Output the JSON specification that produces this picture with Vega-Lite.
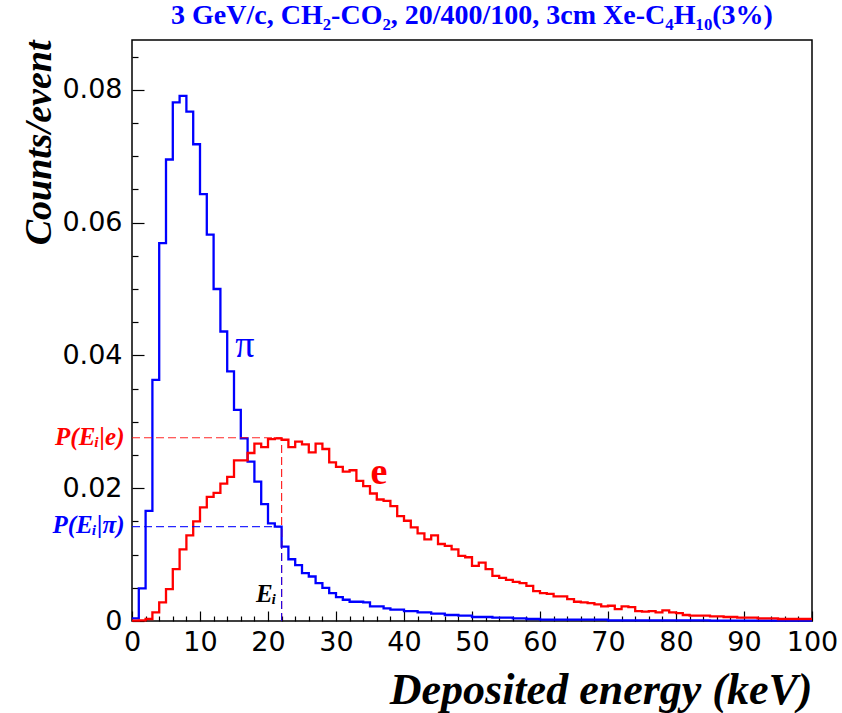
{
  "$schema": "https://vega.github.io/schema/vega-lite/v6.json",
  "width": 680,
  "height": 581,
  "autosize": {"type": "none"},
  "padding": {"left": 132, "top": 40, "right": 30, "bottom": 92},
  "background": "white",
  "config": {
    "view": {"stroke": "black", "strokeWidth": 1.5},
    "axis": {"grid": false, "domain": false, "tickColor": "black", "labelColor": "black", "titleColor": "black"}
  },
  "title": {
    "text": "3 GeV/c, CH₂-CO₂, 20/400/100, 3cm Xe-C₄H₁₀(3%)",
    "font": "Liberation Serif",
    "fontSize": 28,
    "fontWeight": "bold",
    "color": "#0000ff",
    "offset": 10,
    "anchor": "middle"
  },
  "datasets": {
    "pi": [
      {"E":0,"v":0.0004},{"E":1,"v":0.0049},{"E":2,"v":0.0166},{"E":3,"v":0.0363},{"E":4,"v":0.0569},
      {"E":5,"v":0.0695},{"E":6,"v":0.0781},{"E":7,"v":0.0791},{"E":8,"v":0.0767},{"E":9,"v":0.0718},
      {"E":10,"v":0.0643},{"E":11,"v":0.0582},{"E":12,"v":0.0500},{"E":13,"v":0.0436},{"E":14,"v":0.0376},
      {"E":15,"v":0.0318},{"E":16,"v":0.0275},{"E":17,"v":0.0240},{"E":18,"v":0.0210},{"E":19,"v":0.0176},
      {"E":20,"v":0.0147},{"E":21,"v":0.0142},{"E":22,"v":0.0112},{"E":23,"v":0.0093},{"E":24,"v":0.0084},
      {"E":25,"v":0.0072},{"E":26,"v":0.0067},{"E":27,"v":0.0057},{"E":28,"v":0.0050},{"E":29,"v":0.0042},
      {"E":30,"v":0.0036},{"E":31,"v":0.0032},{"E":32,"v":0.0029},{"E":33,"v":0.0029},{"E":34,"v":0.0028},
      {"E":35,"v":0.0022},{"E":36,"v":0.0022},{"E":37,"v":0.0019},{"E":38,"v":0.0017},{"E":39,"v":0.0017},
      {"E":40,"v":0.0015},{"E":41,"v":0.0015},{"E":42,"v":0.0013},{"E":43,"v":0.0013},{"E":44,"v":0.0011},
      {"E":45,"v":0.0011},{"E":46,"v":0.0009},{"E":47,"v":0.0009},{"E":48,"v":0.0008},{"E":49,"v":0.0008},
      {"E":50,"v":0.0006},{"E":51,"v":0.0006},{"E":52,"v":0.0006},{"E":53,"v":0.0005},{"E":54,"v":0.0005},
      {"E":55,"v":0.0005},{"E":56,"v":0.0004},{"E":57,"v":0.0004},{"E":58,"v":0.0003},{"E":59,"v":0.0003},
      {"E":60,"v":0.0002},{"E":61,"v":0.0002},{"E":62,"v":0.0002},{"E":63,"v":0.0002},{"E":64,"v":0.0002},
      {"E":65,"v":0.0002},{"E":66,"v":0.0002},{"E":67,"v":0.0002},{"E":68,"v":0.0002},{"E":69,"v":0.0002},
      {"E":70,"v":0.0001},{"E":71,"v":0.0001},{"E":72,"v":0.0001},{"E":73,"v":0.0001},{"E":74,"v":0.0001},
      {"E":75,"v":0.0001},{"E":76,"v":0.0001},{"E":77,"v":0.0001},{"E":78,"v":0.0001},{"E":79,"v":0.0001},
      {"E":80,"v":0.0001},{"E":81,"v":0.0001},{"E":82,"v":0.0001},{"E":83,"v":0.0001},{"E":84,"v":0.0001},
      {"E":85,"v":0.00005},{"E":86,"v":0.00005},{"E":87,"v":0.00005},{"E":88,"v":0.00005},{"E":89,"v":0.00005},
      {"E":90,"v":0.00005},{"E":91,"v":0.00005},{"E":92,"v":0.00005},{"E":93,"v":0.00005},{"E":94,"v":0.00005},
      {"E":95,"v":0.00005},{"E":96,"v":0.00005},{"E":97,"v":0.00005},{"E":98,"v":0.00005},{"E":99,"v":0.00005},
      {"E":100,"v":0.00005}
    ],
    "e": [
      {"E":0,"v":0.00005},{"E":1,"v":0.0001},{"E":2,"v":0.0003},{"E":3,"v":0.0013},{"E":4,"v":0.0028},
      {"E":5,"v":0.0048},{"E":6,"v":0.0078},{"E":7,"v":0.0108},{"E":8,"v":0.0129},{"E":9,"v":0.0150},
      {"E":10,"v":0.0171},{"E":11,"v":0.0187},{"E":12,"v":0.0193},{"E":13,"v":0.0207},{"E":14,"v":0.0217},
      {"E":15,"v":0.0242},{"E":16,"v":0.0242},{"E":17,"v":0.0253},{"E":18,"v":0.0267},{"E":19,"v":0.0262},
      {"E":20,"v":0.0274},{"E":21,"v":0.0275},{"E":22,"v":0.0273},{"E":23,"v":0.0262},{"E":24,"v":0.0270},
      {"E":25,"v":0.0266},{"E":26,"v":0.0254},{"E":27,"v":0.0267},{"E":28,"v":0.0259},{"E":29,"v":0.0239},
      {"E":30,"v":0.0232},{"E":31,"v":0.0225},{"E":32,"v":0.0227},{"E":33,"v":0.0211},{"E":34,"v":0.0203},
      {"E":35,"v":0.0192},{"E":36,"v":0.0183},{"E":37,"v":0.0181},{"E":38,"v":0.0173},{"E":39,"v":0.0158},
      {"E":40,"v":0.0151},{"E":41,"v":0.0141},{"E":42,"v":0.0132},{"E":43,"v":0.0123},{"E":44,"v":0.0129},
      {"E":45,"v":0.0116},{"E":46,"v":0.0113},{"E":47,"v":0.0108},{"E":48,"v":0.0098},{"E":49,"v":0.0096},
      {"E":50,"v":0.0083},{"E":51,"v":0.0088},{"E":52,"v":0.0078},{"E":53,"v":0.0068},{"E":54,"v":0.0065},
      {"E":55,"v":0.0062},{"E":56,"v":0.0059},{"E":57,"v":0.0057},{"E":58,"v":0.0053},{"E":59,"v":0.0045},
      {"E":60,"v":0.0042},{"E":61,"v":0.0041},{"E":62,"v":0.0037},{"E":63,"v":0.0037},{"E":64,"v":0.0033},
      {"E":65,"v":0.0029},{"E":66,"v":0.0028},{"E":67,"v":0.0027},{"E":68,"v":0.0025},{"E":69,"v":0.0022},
      {"E":70,"v":0.0023},{"E":71,"v":0.0018},{"E":72,"v":0.0022},{"E":73,"v":0.0021},{"E":74,"v":0.0015},
      {"E":75,"v":0.0014},{"E":76,"v":0.0015},{"E":77,"v":0.0013},{"E":78,"v":0.0016},{"E":79,"v":0.0013},
      {"E":80,"v":0.0012},{"E":81,"v":0.0009},{"E":82,"v":0.0008},{"E":83,"v":0.0008},{"E":84,"v":0.0008},
      {"E":85,"v":0.0007},{"E":86,"v":0.0007},{"E":87,"v":0.0006},{"E":88,"v":0.0006},{"E":89,"v":0.0005},
      {"E":90,"v":0.0005},{"E":91,"v":0.0005},{"E":92,"v":0.0004},{"E":93,"v":0.0004},{"E":94,"v":0.0004},
      {"E":95,"v":0.0003},{"E":96,"v":0.0003},{"E":97,"v":0.0003},{"E":98,"v":0.0003},{"E":99,"v":0.0003},
      {"E":100,"v":0.0003}
    ]
  },
  "layer": [
    {
      "data": {"name": "pi"},
      "mark": {"type": "line", "interpolate": "step-after", "color": "#0000ff", "strokeWidth": 2.3},
      "encoding": {
        "x": {
          "field": "E", "type": "quantitative",
          "scale": {"domain": [0, 100], "nice": false, "zero": false},
          "axis": {
            "orient": "bottom",
            "values": [0, 10, 20, 30, 40, 50, 60, 70, 80, 90, 100],
            "ticks": false,
            "labelFont": "DejaVu Sans", "labelFontSize": 27, "labelPadding": 8,
            "labelFlush": false, "labelOverlap": false,
            "title": "Deposited energy (keV)",
            "titleFont": "Liberation Serif", "titleFontSize": 44, "titleFontWeight": "bold", "titleFontStyle": "italic",
            "titleX": 680, "titleY": 82, "titleAlign": "right", "titleBaseline": "alphabetic", "titleAnchor": "end"
          }
        },
        "y": {
          "field": "v", "type": "quantitative",
          "scale": {"domain": [0, 0.0875], "nice": false, "zero": true},
          "axis": {
            "orient": "left",
            "values": [0, 0.02, 0.04, 0.06, 0.08],
            "format": ".2~f",
            "ticks": false,
            "labelFont": "DejaVu Sans", "labelFontSize": 27, "labelPadding": 10,
            "labelFlush": false, "labelOverlap": false,
            "title": "Counts/event",
            "titleFont": "Liberation Serif", "titleFontSize": 38, "titleFontWeight": "bold", "titleFontStyle": "italic",
            "titleAngle": 270, "titleX": -82, "titleY": 0, "titleAlign": "right", "titleBaseline": "alphabetic", "titleAnchor": "end"
          }
        }
      }
    },
    {
      "data": {"name": "e"},
      "mark": {"type": "line", "interpolate": "step-after", "color": "#ff0000", "strokeWidth": 2.3},
      "encoding": {
        "x": {
          "field": "E", "type": "quantitative",
          "axis": {"orient": "bottom", "values": [0, 10, 20, 30, 40, 50, 60, 70, 80, 90, 100], "labels": false, "tickSize": -10, "tickWidth": 1.2, "title": null}
        },
        "y": {
          "field": "v", "type": "quantitative",
          "axis": {"orient": "left", "values": [0, 0.02, 0.04, 0.06, 0.08], "labels": false, "tickSize": -12, "tickWidth": 1.2, "title": null}
        }
      }
    },
    {
      "data": {"values": [
        {"x": 0, "x2": 22, "y": 0.0276, "y2": 0.0276, "s": "e"},
        {"x": 22, "x2": 22, "y": 0, "y2": 0.0276, "s": "e"},
        {"x": 0, "x2": 22, "y": 0.0142, "y2": 0.0142, "s": "pi"},
        {"x": 22, "x2": 22, "y": 0, "y2": 0.0142, "s": "pi"}
      ]},
      "mark": {"type": "rule", "strokeDash": [8, 4], "strokeWidth": 1.2, "opacity": 0.85},
      "encoding": {
        "x": {
          "field": "x", "type": "quantitative",
          "axis": {"orient": "bottom", "values": [2,4,6,8,12,14,16,18,22,24,26,28,32,34,36,38,42,44,46,48,52,54,56,58,62,64,66,68,72,74,76,78,82,84,86,88,92,94,96,98], "labels": false, "tickSize": -5, "tickWidth": 1.2, "title": null}
        },
        "x2": {"field": "x2"},
        "y": {
          "field": "y", "type": "quantitative",
          "axis": {"orient": "left", "values": [0.005,0.01,0.015,0.025,0.03,0.035,0.045,0.05,0.055,0.065,0.07,0.075,0.085], "labels": false, "tickSize": -6, "tickWidth": 1.2, "title": null}
        },
        "y2": {"field": "y2"},
        "color": {"field": "s", "type": "nominal", "scale": {"domain": ["e", "pi"], "range": ["#ff0000", "#0000ff"]}, "legend": null}
      }
    },
    {
      "data": {"values": [{"E": 16.6, "v": 0.0398, "t": "π"}]},
      "mark": {"type": "text", "font": "Liberation Serif", "fontSize": 38, "color": "#0000ff", "align": "center", "baseline": "alphabetic"},
      "encoding": {
        "x": {"field": "E", "type": "quantitative", "axis": null},
        "y": {"field": "v", "type": "quantitative", "axis": null},
        "text": {"field": "t"}
      }
    },
    {
      "data": {"values": [{"E": 36.3, "v": 0.0207, "t": "e"}]},
      "mark": {"type": "text", "font": "Liberation Serif", "fontSize": 38, "fontWeight": "bold", "color": "#ff0000", "align": "center", "baseline": "alphabetic"},
      "encoding": {
        "x": {"field": "E", "type": "quantitative", "axis": null},
        "y": {"field": "v", "type": "quantitative", "axis": null},
        "text": {"field": "t"}
      }
    },
    {
      "data": {"values": [{"E": -1.1, "v": 0.0265, "t": "P(Eᵢ|e)"}]},
      "mark": {"type": "text", "font": "Liberation Serif", "fontSize": 25, "fontWeight": "bold", "fontStyle": "italic", "color": "#ff0000", "align": "right", "baseline": "alphabetic"},
      "encoding": {
        "x": {"field": "E", "type": "quantitative", "axis": null},
        "y": {"field": "v", "type": "quantitative", "axis": null},
        "text": {"field": "t"}
      }
    },
    {
      "data": {"values": [{"E": -1.1, "v": 0.0132, "t": "P(Eᵢ|π)"}]},
      "mark": {"type": "text", "font": "Liberation Serif", "fontSize": 25, "fontWeight": "bold", "fontStyle": "italic", "color": "#0000ff", "align": "right", "baseline": "alphabetic"},
      "encoding": {
        "x": {"field": "E", "type": "quantitative", "axis": null},
        "y": {"field": "v", "type": "quantitative", "axis": null},
        "text": {"field": "t"}
      }
    },
    {
      "data": {"values": [{"E": 21.3, "v": 0.0028, "t": "Eᵢ"}]},
      "mark": {"type": "text", "font": "Liberation Serif", "fontSize": 25, "fontWeight": "bold", "fontStyle": "italic", "color": "black", "align": "right", "baseline": "alphabetic"},
      "encoding": {
        "x": {"field": "E", "type": "quantitative", "axis": null},
        "y": {"field": "v", "type": "quantitative", "axis": null},
        "text": {"field": "t"}
      }
    }
  ],
  "resolve": {"axis": {"x": "independent", "y": "independent"}}
}
